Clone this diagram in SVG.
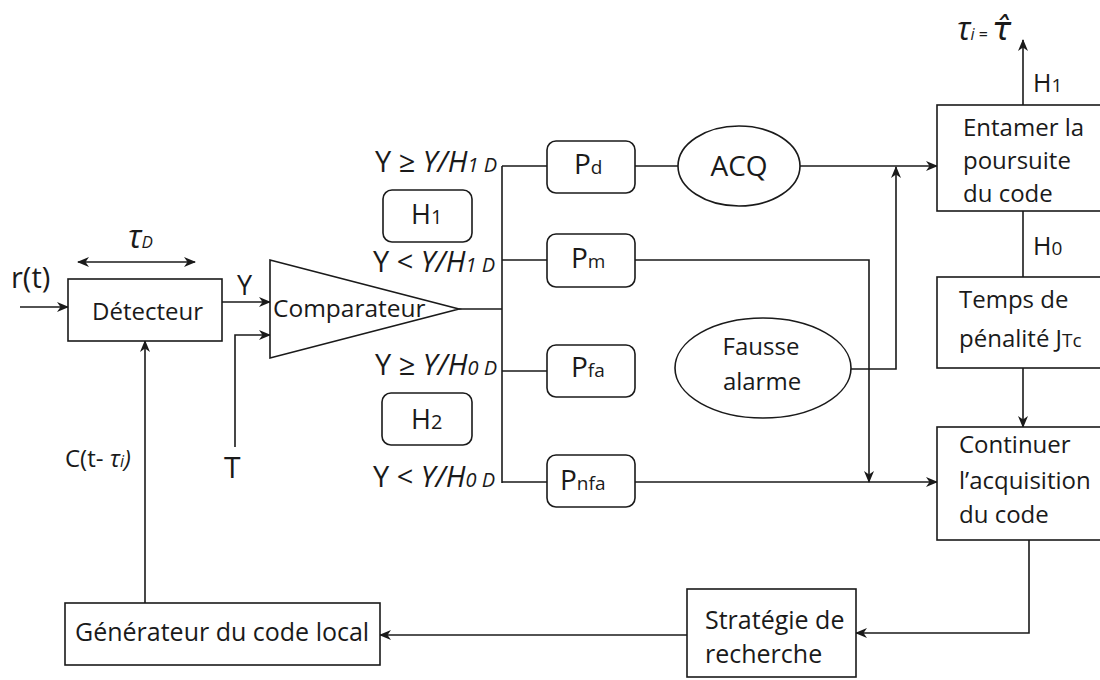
<svg xmlns="http://www.w3.org/2000/svg" width="1100" height="680" viewBox="0 0 1100 680">
<defs>
<marker id="arr" viewBox="0 0 12 10" refX="11" refY="5" markerWidth="12" markerHeight="10" markerUnits="userSpaceOnUse" orient="auto-start-reverse">
<path d="M0,0 L12,5 L0,10 L3.5,5 z" fill="#1a1a1a"/>
</marker>
<style>
.ln{fill:none;stroke:#1a1a1a;stroke-width:1.6}
.bx{fill:#fff;stroke:#1a1a1a;stroke-width:1.6}
.t{font-family:"Open Sans","Liberation Sans",sans-serif;font-size:24px;fill:#1a1a1a}
.lb{font-family:"Open Sans","Liberation Sans",sans-serif;font-size:29px;fill:#1a1a1a}
.p{font-family:"Open Sans","Liberation Sans",sans-serif;font-size:28px;fill:#1a1a1a}
.it{font-style:italic}
.sub{font-size:20px}
.sp{font-size:19px}
</style>
</defs>
<rect width="1100" height="680" fill="#fff"/>

<g id="connectors">
<path class="ln" d="M20,307 H68" marker-end="url(#arr)"/>
<path class="ln" d="M78,262 H195" marker-start="url(#arr)" marker-end="url(#arr)"/>
<path class="ln" d="M222,302 H270" marker-end="url(#arr)"/>
<path class="ln" d="M235,447 V335 H270" marker-end="url(#arr)"/>
<path class="ln" d="M459,309 H502"/>
<path class="ln" d="M502,166 V483"/>
<path class="ln" d="M502,166 H547 M502,260 H547 M502,371 H547 M502,482 H547"/>
<path class="ln" d="M635,166 H678"/>
<path class="ln" d="M800,166 H937" marker-end="url(#arr)"/>
<path class="ln" d="M635,260 H869 V482" marker-end="url(#arr)"/>
<path class="ln" d="M851,369 H896 V167" marker-end="url(#arr)"/>
<path class="ln" d="M635,482 H937" marker-end="url(#arr)"/>
<path class="ln" d="M1023,105 V40" marker-end="url(#arr)"/>
<path class="ln" d="M1023,211 V277"/>
<path class="ln" d="M1023,368 V427" marker-end="url(#arr)"/>
<path class="ln" d="M1029,540 V633 H856" marker-end="url(#arr)"/>
<path class="ln" d="M687,635 H380" marker-end="url(#arr)"/>
<path class="ln" d="M145,603 V341" marker-end="url(#arr)"/>
</g>

<g id="detecteur">
<rect class="bx" x="68" y="279" width="154" height="62"/>
<text class="t" x="92" y="320">Détecteur</text>
</g>

<g id="comparateur">
<polygon class="bx" points="270,260 459,309 270,358"/>
<text class="t" x="273" y="317" style="font-size:24.5px">Comparateur</text>
</g>

<g id="h1box">
<rect class="bx" x="383" y="190" width="89" height="52" rx="9"/>
<text class="t" x="411" y="224" style="font-size:27px">H<tspan class="sub">1</tspan></text>
</g>

<g id="h2box">
<rect class="bx" x="382" y="393" width="90" height="52" rx="9"/>
<text class="t" x="411" y="429" style="font-size:27px">H<tspan class="sub">2</tspan></text>
</g>

<g id="pd">
<rect class="bx" x="547" y="141" width="88" height="52" rx="9"/>
<text class="p" x="574" y="174">P<tspan class="sp">d</tspan></text>
</g>
<g id="pm">
<rect class="bx" x="547" y="234" width="88" height="53" rx="9"/>
<text class="p" x="571" y="268">P<tspan class="sp">m</tspan></text>
</g>
<g id="pfa">
<rect class="bx" x="547" y="345" width="88" height="52" rx="9"/>
<text class="p" x="571" y="377">P<tspan class="sp">fa</tspan></text>
</g>
<g id="pnfa">
<rect class="bx" x="547" y="455" width="88" height="52" rx="9"/>
<text class="p" x="560" y="490">P<tspan class="sp">nfa</tspan></text>
</g>

<g id="acq">
<ellipse class="bx" cx="739" cy="166" rx="61" ry="40"/>
<text class="p" x="739" y="176" text-anchor="middle">ACQ</text>
</g>

<g id="fausse">
<ellipse class="bx" cx="763" cy="368" rx="88" ry="50"/>
<text class="t" x="761" y="355" text-anchor="middle">Fausse</text>
<text class="t" x="762" y="390" text-anchor="middle">alarme</text>
</g>

<g id="entamer">
<rect class="bx" x="937" y="105" width="172" height="106"/>
<text class="t" x="963" y="136">Entamer la</text>
<text class="t" x="963" y="169">poursuite</text>
<text class="t" x="963" y="202">du code</text>
</g>

<g id="temps">
<rect class="bx" x="937" y="277" width="172" height="91"/>
<text class="t" x="959" y="308">Temps de</text>
<text class="t" x="959" y="347">pénalité J<tspan class="sp">Tc</tspan></text>
</g>

<g id="continuer">
<rect class="bx" x="937" y="427" width="172" height="113"/>
<text class="t" x="959" y="453">Continuer</text>
<text class="t" x="959" y="489">l’acquisition</text>
<text class="t" x="959" y="523">du code</text>
</g>

<g id="strategie">
<rect class="bx" x="687" y="589" width="169" height="88"/>
<text class="t" x="705" y="629" style="font-size:25px">Stratégie de</text>
<text class="t" x="705" y="663" style="font-size:25px">recherche</text>
</g>

<g id="generateur">
<rect class="bx" x="65" y="603" width="315" height="62"/>
<text class="t" x="75" y="641" style="font-size:25px">Générateur du code local</text>
</g>

<g id="labels">
<text class="lb" x="11" y="288">r(t)</text>
<text class="lb" x="128" y="248" style="font-size:32px"><tspan class="it">τ</tspan><tspan class="it" style="font-size:17px">D</tspan></text>
<text class="lb" x="237" y="295" style="font-size:27px">Y</text>
<text class="lb" x="224" y="478" style="font-size:30px">T</text>
<text class="t" x="65" y="467">C(t- <tspan class="it">τ</tspan><tspan class="it" style="font-size:16px">i</tspan><tspan class="it">)</tspan></text>
<text class="lb" x="497" y="172" text-anchor="end">Y ≥ <tspan class="it">Y/H<tspan class="sub">1 D</tspan></tspan></text>
<text class="lb" x="495" y="272" text-anchor="end">Y &lt; <tspan class="it">Y/H<tspan class="sub">1 D</tspan></tspan></text>
<text class="lb" x="497" y="375" text-anchor="end">Y ≥ <tspan class="it">Y/H<tspan class="sub">0 D</tspan></tspan></text>
<text class="lb" x="495" y="487" text-anchor="end">Y &lt; <tspan class="it">Y/H<tspan class="sub">0 D</tspan></tspan></text>
<text class="lb" x="957" y="40" style="font-size:32px"><tspan class="it">τ</tspan><tspan class="it" style="font-size:16px">i</tspan><tspan style="font-size:16px"> = </tspan><tspan class="it" style="font-family:'DejaVu Sans',sans-serif">τ̂</tspan></text>
<text class="lb" x="1033" y="92" style="font-size:25px">H<tspan style="font-size:19px">1</tspan></text>
<text class="lb" x="1033" y="255" style="font-size:25px">H<tspan style="font-size:19px">0</tspan></text>
</g>
</svg>
